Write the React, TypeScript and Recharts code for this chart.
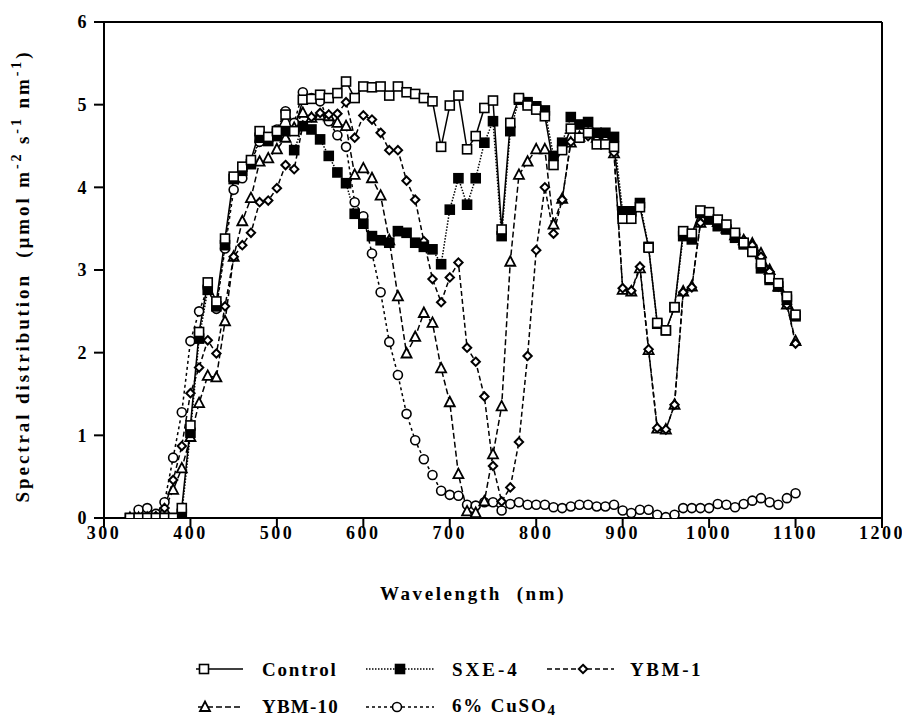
import {
    LineChart,
    Line,
    XAxis,
    YAxis,
    ReferenceLine,
    Label,
} from "recharts";

const WAVELENGTH = [
    330, 340, 350, 360, 370, 380, 390, 400, 410, 420, 430, 440, 450, 460, 470, 480, 490, 500, 510, 520,
    530, 540, 550, 560, 570, 580, 590, 600, 610, 620, 630, 640, 650, 660, 670, 680, 690, 700, 710, 720,
    730, 740, 750, 760, 770, 780, 790, 800, 810, 820, 830, 840, 850, 860, 870, 880, 890, 900, 910, 920,
    930, 940, 950, 960, 970, 980, 990, 1000, 1010, 1020, 1030, 1040, 1050, 1060, 1070, 1080, 1090, 1100,
];

const CONTROL = [
    0, 0, 0, 0, 0, 0, 0.12, 1.12, 2.25, 2.85, 2.62, 3.38, 4.13, 4.25, 4.33, 4.68, 4.61, 4.68, 4.88, 4.68,
    5.06, 5.07, 5.12, 5.08, 5.14, 5.28, 5.08, 5.22, 5.21, 5.22, 5.11, 5.22, 5.15, 5.13, 5.08, 5.04, 4.49, 4.99, 5.11, 4.46,
    4.62, 4.96, 5.05, 3.49, 4.78, 5.08, 4.99, 4.94, 4.86, 4.27, 4.45, 4.71, 4.6, 4.66, 4.52, 4.52, 4.49, 3.62, 3.62, 3.76,
    3.27, 2.36, 2.27, 2.55, 3.47, 3.44, 3.72, 3.7, 3.61, 3.55, 3.45, 3.33, 3.22, 3.08, 2.9, 2.84, 2.68, 2.46,
];

const SXE4 = [
    0, 0, 0, 0, 0, 0, 0.05, 1.03, 2.17, 2.76, 2.56, 3.3, 4.1, 4.2, 4.28, 4.6, 4.56, 4.62, 4.68, 4.45,
    4.74, 4.7, 4.58, 4.38, 4.18, 4.05, 3.68, 3.56, 3.41, 3.36, 3.33, 3.47, 3.45, 3.33, 3.28, 3.25, 3.07, 3.73, 4.11, 3.79,
    4.11, 4.54, 4.8, 3.41, 4.68, 5.06, 5.03, 4.98, 4.93, 4.38, 4.54, 4.85, 4.76, 4.79, 4.66, 4.66, 4.61, 3.71, 3.71, 3.81,
    3.28, 2.35, 2.27, 2.55, 3.41, 3.37, 3.69, 3.61, 3.53, 3.49, 3.39, 3.31, 3.22, 3.02, 2.88, 2.8, 2.64, 2.44,
];

const YBM1 = [
    0, 0, 0, 0.02, 0.12, 0.46, 0.87, 1.51, 1.82, 2.15, 1.99, 2.56, 3.16, 3.3, 3.45, 3.82, 3.84, 3.99, 4.27, 4.22,
    4.75, 4.85, 4.9, 4.88, 4.89, 5.03, 4.6, 4.87, 4.82, 4.66, 4.45, 4.45, 4.08, 3.85, 3.35, 2.89, 2.61, 2.91, 3.09, 2.06,
    1.89, 1.47, 0.63, 0.2, 0.37, 0.92, 1.96, 3.24, 4.0, 3.44, 3.85, 4.55, 4.6, 4.62, 4.58, 4.58, 4.42, 2.78, 2.75, 3.04,
    2.04, 1.09, 1.07, 1.37, 2.73, 2.79, 3.57, 3.64, 3.58, 3.52, 3.43, 3.36, 3.3, 3.16, 2.98, 2.8, 2.58, 2.11,
];

const YBM10 = [
    0, 0, 0, 0, 0.1, 0.34, 0.6, 0.98, 1.39, 1.72, 1.7, 2.38, 3.16, 3.59, 3.87, 4.31, 4.35, 4.46, 4.6, 4.72,
    4.9, 4.84, 4.87, 4.86, 4.78, 4.74, 4.15, 4.23, 4.11, 3.9, 3.36, 2.68, 1.99, 2.19, 2.48, 2.36, 1.81, 1.4, 0.53, 0.08,
    0.06, 0.2, 0.77, 1.35, 3.1, 4.15, 4.31, 4.46, 4.46, 3.55, 3.86, 4.54, 4.61, 4.65, 4.6, 4.6, 4.41, 2.76, 2.74, 3.02,
    2.03, 1.08, 1.07, 1.37, 2.74, 2.8, 3.57, 3.62, 3.58, 3.5, 3.42, 3.36, 3.32, 3.2, 3.0, 2.8, 2.58, 2.14,
];

const CUSO4 = [
    0, 0.1, 0.12, 0.05, 0.19, 0.73, 1.28, 2.14, 2.5, 2.78, 2.53, 3.26, 3.97, 4.11, 4.3, 4.55, 4.6, 4.7, 4.92, 4.78,
    5.15, 5.08, 5.04, 4.8, 4.63, 4.49, 3.82, 3.65, 3.2, 2.73, 2.13, 1.73, 1.26, 0.94, 0.71, 0.52, 0.33, 0.28, 0.27, 0.16,
    0.15, 0.19, 0.19, 0.09, 0.17, 0.19, 0.16, 0.16, 0.16, 0.13, 0.12, 0.14, 0.16, 0.16, 0.14, 0.14, 0.16, 0.09, 0.06, 0.1,
    0.1, 0.04, 0.01, 0.04, 0.12, 0.12, 0.12, 0.12, 0.17, 0.16, 0.13, 0.17, 0.21, 0.24, 0.19, 0.16, 0.24, 0.3,
];

const X_TICKS = [300, 400, 500, 600, 700, 800, 900, 1000, 1100, 1200];
const Y_TICKS = [0, 1, 2, 3, 4, 5, 6];

const FONT = "'Liberation Serif', 'Times New Roman', serif";

const data = WAVELENGTH.map((w, i) => ({
    w,
    control: CONTROL[i],
    sxe4: SXE4[i],
    ybm1: YBM1[i],
    ybm10: YBM10[i],
    cuso4: CUSO4[i],
}));

// marker shapes
const Square = ({ cx, cy, filled }: any) => (
    <rect
        x={cx - 4.5}
        y={cy - 4.5}
        width={9}
        height={9}
        fill={filled ? "#000" : "#fff"}
        stroke="#000"
        strokeWidth={1.6}
    />
);

const Diamond = ({ cx, cy }: any) => (
    <polygon
        points={`${cx},${cy - 4.2} ${cx + 4.2},${cy} ${cx},${cy + 4.2} ${cx - 4.2},${cy}`}
        fill="#fff"
        stroke="#000"
        strokeWidth={2}
    />
);

const Triangle = ({ cx, cy }: any) => (
    <polygon
        points={`${cx},${cy - 5.5} ${cx + 5},${cy + 4} ${cx - 5},${cy + 4}`}
        fill="#fff"
        stroke="#000"
        strokeWidth={1.8}
    />
);

const Circle = ({ cx, cy }: any) => (
    <circle cx={cx} cy={cy} r={4.5} fill="#fff" stroke="#000" strokeWidth={1.6} />
);

const dotOf = (kind: string) => (p: any) => {
    const k = `${kind}-${p.index}`;
    if (kind === "control") return <Square key={k} cx={p.cx} cy={p.cy} />;
    if (kind === "sxe4") return <Square key={k} cx={p.cx} cy={p.cy} filled />;
    if (kind === "ybm1") return <Diamond key={k} cx={p.cx} cy={p.cy} />;
    if (kind === "ybm10") return <Triangle key={k} cx={p.cx} cy={p.cy} />;
    return <Circle key={k} cx={p.cx} cy={p.cy} />;
};

const tickStyle = {
    fontFamily: FONT,
    fontWeight: "bold",
    fontSize: 18,
    letterSpacing: 2.5,
    fill: "#000",
};

const YTitle = () => (
    <text
        transform="translate(21,268) rotate(-90)"
        textAnchor="middle"
        fontFamily={FONT}
        fontWeight="bold"
        fontSize={19}
        letterSpacing={2.9}
        fill="#000"
        xmlSpace="preserve"
    >
        Spectral distribution  (µmol m
        <tspan fontSize={14} dy={-8}>-2</tspan>
        <tspan dy={8}> s</tspan>
        <tspan fontSize={14} dy={-8}>-1</tspan>
        <tspan dy={8}> nm</tspan>
        <tspan fontSize={14} dy={-8}>-1</tspan>
        <tspan dy={8}>)</tspan>
    </text>
);

const XTitle = () => (
    <text
        x={465}
        y={592}
        textAnchor="middle"
        fontFamily={FONT}
        fontWeight="bold"
        fontSize={19}
        letterSpacing={2.6}
        fill="#000"
        xmlSpace="preserve"
    >
        Wavelength  (nm)
    </text>
);

const legendText = {
    fontFamily: FONT,
    fontWeight: "bold" as const,
    fontSize: 19,
    letterSpacing: 1.8,
    fill: "#000",
};

const LegendBlock = () => (
    <svg
        width={902}
        height={720}
        style={{ position: "absolute", left: 0, top: 0, pointerEvents: "none", overflow: "visible" }}
    >
        {/* row 1 */}
        <line x1={188} y1={661} x2={235} y2={661} stroke="#000" strokeWidth={1.5} />
        <Square cx={196} cy={661} />
        <text x={254} y={668} {...legendText}>Control</text>

        <line x1={358} y1={661} x2={426} y2={661} stroke="#000" strokeWidth={1.5} strokeDasharray="1.5 1.5" />
        <Square cx={392} cy={661} filled />
        <text x={444} y={668} {...legendText} letterSpacing={3}>SXE-4</text>

        <line x1={539} y1={661} x2={606} y2={661} stroke="#000" strokeWidth={1.5} strokeDasharray="5 3" />
        <Diamond cx={575} cy={661} />
        <text x={622} y={668} {...legendText} letterSpacing={2.6}>YBM-1</text>

        {/* row 2 */}
        <line x1={190} y1={699} x2={234} y2={699} stroke="#000" strokeWidth={1.5} strokeDasharray="6 3" />
        <Triangle cx={197} cy={699} />
        <text x={254} y={705} {...legendText} letterSpacing={1.2}>YBM-10</text>

        <line x1={358} y1={699} x2={426} y2={699} stroke="#000" strokeWidth={1.5} strokeDasharray="3 3" />
        <Circle cx={389} cy={699} />
        <text x={444} y={704} {...legendText}>
            6% CuSO<tspan fontSize={15} dy={3}>4</tspan>
        </text>
    </svg>
);

const App = () => {
    return (
        <div style={{ position: "relative", width: 902, height: 709 }}>
            <LineChart
                width={902}
                height={709}
                data={data}
                margin={{ top: 14, right: 28, left: 20, bottom: 159 }}
            >
                <XAxis
                    dataKey="w"
                    type="number"
                    domain={[300, 1200]}
                    ticks={X_TICKS}
                    height={40}
                    tickSize={10}
                    tickMargin={-2}
                    tick={tickStyle}
                    axisLine={{ stroke: "#000", strokeWidth: 2 }}
                    tickLine={{ stroke: "#000", strokeWidth: 2 }}
                    allowDataOverflow
                />
                <YAxis
                    type="number"
                    domain={[0, 6]}
                    ticks={Y_TICKS}
                    width={76}
                    tickSize={10}
                    tickMargin={5}
                    tick={tickStyle}
                    axisLine={{ stroke: "#000", strokeWidth: 2 }}
                    tickLine={{ stroke: "#000", strokeWidth: 2 }}
                    allowDataOverflow
                >
                    <Label content={() => <YTitle />} />
                </YAxis>
                <ReferenceLine y={6} stroke="#000" strokeWidth={2} />
                <ReferenceLine x={1200} stroke="#000" strokeWidth={2} />

                <Line
                    dataKey="cuso4"
                    type="linear"
                    stroke="#000"
                    strokeWidth={1.5}
                    strokeDasharray="3 3"
                    dot={dotOf("cuso4")}
                    isAnimationActive={false}
                />
                <Line
                    dataKey="ybm10"
                    type="linear"
                    stroke="#000"
                    strokeWidth={1.5}
                    strokeDasharray="6 3"
                    dot={dotOf("ybm10")}
                    isAnimationActive={false}
                />
                <Line
                    dataKey="ybm1"
                    type="linear"
                    stroke="#000"
                    strokeWidth={1.5}
                    strokeDasharray="5 3"
                    dot={dotOf("ybm1")}
                    isAnimationActive={false}
                />
                <Line
                    dataKey="sxe4"
                    type="linear"
                    stroke="#000"
                    strokeWidth={1.5}
                    strokeDasharray="1.5 1.5"
                    dot={dotOf("sxe4")}
                    isAnimationActive={false}
                />
                <Line
                    dataKey="control"
                    type="linear"
                    stroke="#000"
                    strokeWidth={1.5}
                    dot={dotOf("control")}
                    isAnimationActive={false}
                />
            </LineChart>
            <svg
                width={902}
                height={709}
                style={{ position: "absolute", left: 0, top: 0, pointerEvents: "none" }}
            >
                <XTitle />
            </svg>
            <LegendBlock />
        </div>
    );
};

export default App;
